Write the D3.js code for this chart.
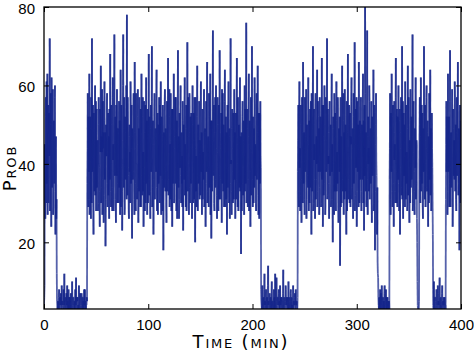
<!DOCTYPE html>
<html>
<head>
<meta charset="utf-8">
<script src="https://cdn.jsdelivr.net/npm/d3@7"></script>
<style>
  body { margin: 0; background: #fff; }
  svg { display: block; }
  .tick text { font-family: "Liberation Sans", Arial, sans-serif; font-size: 15px; fill: #000; }
  .axis-label { font-family: "DejaVu Sans", sans-serif; font-variant: small-caps; fill: #000; }
</style>
</head>
<body>
<div id="chart"></div>
<script>
// sampling step (min); each segment holds two sample streams, the second one offset by dt/2
const dt = 0.5;

// start time (min) of each segment
const segStart = [0, 13, 41.5, 208.5, 243.5, 320.5, 331.5, 358.5, 360, 373.5, 385.5];

// probe values, segment by segment
const burstA = [4, 9, 38, 52, 30, 61, 44, 27, 55, 36, 48, 72, 33, 58, 24, 46, 40, 59, 29, 51, 35, 60, 22, 47, 31, 5];
const burstA2 = [6, 45, 26, 57, 41, 35, 63, 47, 30, 53, 42, 28, 50, 38, 62, 34, 55, 27, 48, 39, 57, 33, 44, 26, 12, 4];

const quietB = [3, 5, 4, 8, 3, 6, 4, 3, 9, 5, 4, 3, 6, 12, 4, 5, 3, 7, 4, 3, 5, 8, 3, 4, 6, 3, 5, 4, 10, 3,
  6, 4, 3, 5, 8, 4, 3, 6, 5, 3, 4, 9, 3, 5, 4, 3, 7, 4, 6, 3, 5, 8, 4, 3, 5, 4, 6];
const quietB2 = [4, 3, 6, 3, 5, 4, 7, 3, 4, 5, 3, 8, 4, 3, 5, 6, 3, 4, 9, 5, 3, 4, 6, 3, 4, 7, 3, 5, 4, 3,
  6, 4, 5, 3, 4, 11, 3, 5, 6, 4, 3, 5, 4, 7, 3, 4, 5, 3, 6, 4, 3, 4, 8, 5, 3, 4, 5];

const burstC = [
  35, 58, 29, 47, 63, 31, 52, 26, 44, 72, 38, 55, 22, 49, 33, 60, 41, 28, 54, 37,
  46, 30, 57, 39, 24, 51, 65, 34, 43, 27, 56, 48, 32, 61, 36, 19, 50, 42, 58, 29,
  53, 38, 26, 47, 68, 33, 55, 40, 28, 62, 45, 31, 73, 37, 52, 25, 44, 59, 35, 49,
  30, 56, 42, 27, 64, 39, 51, 23, 46, 73, 34, 57, 29, 48, 41, 60, 78, 32, 53, 37,
  26, 50, 43, 61, 35, 55, 21, 47, 38, 58, 31, 66, 44, 28, 53, 40, 34, 59, 25, 49,
  57, 36, 45, 29, 63, 41, 52, 33, 24, 56, 39, 48, 30, 62, 43, 27, 54, 37, 68, 32,
  47, 26, 55, 40, 70, 34, 51, 22, 45, 58, 31, 49, 38, 64, 28, 53, 42, 35, 57, 30,
  44, 61, 27, 50, 36, 55, 18, 48, 39, 59, 33, 46, 25, 56, 41, 67, 32, 52, 29, 45,
  58, 37, 49, 24, 54, 40, 63, 31, 47, 35, 57, 28, 51, 43, 69, 34, 26, 53, 39, 60,
  30, 48, 42, 56, 23, 50, 36, 62, 45, 29, 55, 38, 71, 33, 47, 27, 58, 41, 52, 35,
  44, 26, 60, 39, 53, 31, 48, 20, 57, 42, 35, 65, 28, 50, 37, 55, 46, 32, 61, 40,
  27, 54, 43, 36, 59, 30, 49, 24, 56, 38, 66, 33, 47, 29, 52, 41, 63, 35, 21, 51,
  45, 74, 37, 55, 28, 48, 34, 60, 42, 26, 57, 39, 50, 31, 69, 44, 36, 53, 25, 47,
  58, 33, 46, 40, 64, 29, 52, 37, 22, 55, 43, 61, 30, 49, 35, 72, 41, 27, 54, 38,
  47, 31, 59, 44, 26, 53, 36, 67, 40, 57, 28, 50, 34, 62, 45, 17, 48, 39, 56, 32,
  51, 27, 60, 42, 35, 76, 38, 54, 29, 47, 63, 33, 45, 24, 57, 41, 70, 36, 52, 30,
  49, 62, 37, 44, 28, 58, 40, 65, 32, 53, 26, 47, 56, 39];
const burstC2 = [
  44, 31, 52, 38, 27, 49, 36, 57, 30, 46, 41, 29, 53, 37, 45, 32, 56, 48, 34, 42,
  28, 50, 40, 33, 54, 43, 30, 47, 59, 36, 44, 25, 51, 39, 48, 31, 42, 55, 35, 46,
  32, 47, 54, 36, 43, 29, 50, 34, 57, 41, 28, 52, 38, 46, 31, 55, 37, 30, 49, 42,
  45, 34, 51, 38, 29, 55, 43, 33, 60, 40, 49, 27, 52, 36, 46, 31, 44, 57, 39, 28,
  47, 38, 30, 53, 44, 29, 49, 36, 55, 42, 27, 48, 35, 58, 40, 31, 52, 45, 37, 33,
  41, 29, 54, 37, 46, 32, 57, 43, 39, 48, 28, 55, 44, 35, 51, 40, 30, 47, 36, 52,
  33, 49, 38, 56, 29, 45, 42, 36, 53, 31, 47, 40, 58, 34, 46, 27, 50, 39, 44, 55,
  37, 30, 52, 43, 28, 47, 41, 34, 56, 38, 49, 29, 45, 33, 53, 42, 36, 59, 40, 31,
  46, 28, 54, 41, 35, 50, 30, 44, 57, 39, 48, 33, 26, 55, 40, 47, 31, 45, 52, 37,
  43, 35, 29, 51, 38, 46, 55, 32, 41, 49, 28, 44, 37, 57, 40, 34, 48, 30, 45, 53,
  36, 50, 42, 30, 46, 57, 37, 44, 33, 29, 52, 40, 47, 35, 56, 31, 43, 54, 38, 48,
  45, 31, 38, 53, 29, 48, 42, 35, 47, 56, 30, 43, 39, 58, 34, 46, 27, 51, 40, 33,
  54, 38, 46, 30, 41, 57, 36, 44, 32, 50, 43, 28, 55, 37, 48, 31, 45, 40, 59, 35,
  42, 50, 29, 56, 37, 45, 31, 48, 43, 34, 52, 39, 47, 26, 54, 40, 33, 49, 44, 30,
  53, 39, 36, 48, 42, 31, 57, 45, 29, 50, 38, 44, 55, 33, 47, 40, 28, 52, 35, 46,
  39, 45, 33, 54, 47, 30, 49, 41, 36, 56, 28, 51, 38, 44, 32, 53, 43, 29, 47, 40,
  34, 52, 45, 30, 55, 36, 48, 41, 27, 46, 53, 35, 42, 8];

const quietD = [5, 3, 9, 4, 6, 3, 12, 5, 4, 8, 3, 6, 4, 14, 5, 3, 7, 4, 6, 3,
  10, 5, 4, 3, 8, 6, 3, 5, 4, 11, 3, 6, 4, 7, 3, 5, 9, 4, 3, 6,
  5, 3, 13, 4, 6, 3, 5, 8, 4, 3, 6, 4, 10, 3, 5, 4, 7, 3, 6, 4,
  3, 9, 5, 4, 6, 3, 8, 4, 5, 3];
const quietD2 = [4, 6, 3, 5, 3, 8, 4, 3, 6, 4, 5, 3, 9, 4, 3, 6, 5, 3, 4, 7,
  3, 5, 4, 6, 3, 4, 12, 3, 5, 4, 3, 6, 4, 8, 5, 3, 4, 6, 3, 5,
  4, 7, 3, 4, 5, 3, 9, 4, 6, 3, 5, 3, 4, 6, 3, 4, 8, 5, 3, 4,
  6, 3, 5, 4, 7, 3, 4, 5, 3, 6];

const burstE = [
  38, 55, 29, 61, 44, 32, 50, 25, 57, 41, 66, 35, 48, 27, 53, 40, 59, 31, 46, 37,
  62, 28, 51, 43, 34, 56, 22, 49, 39, 70, 30, 54, 45, 26, 58, 36, 47, 64, 33, 52,
  41, 27, 57, 38, 49, 30, 67, 44, 24, 55, 35, 60, 46, 29, 53, 39, 72, 32, 48, 42,
  26, 56, 37, 50, 31, 63, 45, 20, 52, 40, 58, 33, 47, 28, 61, 43, 35, 54, 25, 49,
  38, 14, 57, 44, 30, 65, 36, 51, 27, 48, 59, 33, 46, 22, 55, 41, 68, 31, 50, 37,
  53, 29, 45, 62, 34, 49, 26, 58, 40, 71, 32, 54, 43, 24, 56, 38, 47, 66, 30, 51,
  42, 57, 28, 50, 36, 63, 45, 23, 55, 80, 33, 48, 39, 74, 27, 52, 44, 60, 31, 46,
  35, 56, 25, 49, 41, 64, 30, 53, 18, 45, 58, 37, 22, 15];
const burstE2 = [
  46, 33, 52, 39, 28, 55, 42, 36, 48, 30, 53, 44, 31, 57, 38, 47, 26, 50, 41, 34,
  45, 37, 30, 54, 47, 39, 58, 33, 44, 28, 50, 41, 36, 53, 31, 46, 40, 29, 56, 38,
  49, 34, 45, 52, 29, 41, 36, 55, 47, 32, 43, 50, 27, 57, 38, 46, 31, 54, 40, 35,
  48, 37, 44, 29, 55, 38, 31, 49, 42, 27, 46, 53, 36, 51, 33, 40, 57, 30, 45, 39,
  52, 35, 29, 47, 54, 40, 33, 58, 42, 31, 45, 50, 37, 56, 28, 48, 36, 43, 55, 30,
  40, 47, 56, 31, 44, 38, 52, 35, 49, 28, 45, 39, 57, 33, 42, 50, 29, 54, 41, 36,
  48, 33, 45, 39, 55, 30, 51, 42, 37, 58, 44, 29, 53, 36, 47, 40, 33, 56, 38, 49,
  43, 30, 52, 37, 47, 28, 55, 39, 33, 50, 41, 29, 34, 12];

const quietF = [11, 4, 6, 3, 8, 5, 3, 9, 4, 6, 3, 5, 7, 3, 4, 8, 5, 3, 6, 4, 3, 5];
const quietF2 = [6, 3, 5, 4, 3, 7, 4, 5, 3, 6, 4, 3, 9, 4, 5, 3, 6, 4, 3, 5, 4, 3];

const burstG = [36, 58, 27, 49, 63, 33, 52, 41, 24, 56, 45, 30, 67, 38, 54, 29, 47, 60, 35, 51,
  22, 44, 57, 32, 70, 40, 26, 53, 37, 48, 61, 31, 55, 43, 28, 65, 39, 50, 25, 46,
  59, 34, 52, 42, 73, 30, 56, 38, 27, 49, 62, 35, 45, 20];
const burstG2 = [44, 31, 53, 38, 46, 29, 55, 35, 48, 41, 33, 57, 40, 30, 47, 52, 36, 43, 28, 54,
  39, 48, 34, 45, 31, 56, 42, 37, 50, 29, 46, 53, 35, 41, 49, 32, 57, 38, 44, 30,
  51, 40, 36, 47, 28, 55, 43, 33, 49, 39, 31, 46, 26, 10];

const quietH = [4, 3, 3];
const quietH2 = [3, 3, 5];

const burstI = [41, 57, 30, 62, 46, 35, 53, 26, 49, 70, 38, 55, 29, 44, 60, 33, 51, 24, 47, 58,
  36, 64, 42, 28, 53, 39, 22];
const burstI2 = [50, 36, 47, 33, 55, 42, 29, 45, 38, 52, 31, 46, 40, 57, 34, 48, 37, 43, 30, 54,
  45, 32, 49, 36, 44, 30, 8];

const quietJ = [4, 10, 3, 6, 5, 3, 8, 4, 3, 7, 5, 3, 11, 4, 6, 3, 5, 9, 3, 4, 6, 3, 5, 4];
const quietJ2 = [3, 5, 4, 6, 3, 4, 5, 3, 9, 4, 3, 6, 4, 3, 5, 4, 7, 3, 5, 4, 3, 6, 4, 3];

const burstK = [31, 56, 44, 27, 63, 38, 52, 35, 69, 29, 48, 41, 59, 24, 54, 37, 46, 61, 33, 50,
  28, 57, 40, 66, 32, 49, 18, 55, 43, 36];
const burstK2 = [45, 38, 52, 33, 47, 41, 29, 56, 39, 46, 34, 53, 42, 30, 49, 44, 36, 57, 40, 31,
  48, 37, 54, 43, 35, 46, 39, 30, 51, 42];

const segValues = [burstA, quietB, burstC, quietD, burstE, quietF, burstG, quietH, burstI, quietJ, burstK];
const segValues2 = [burstA2, quietB2, burstC2, quietD2, burstE2, quietF2, burstG2, quietH2, burstI2, quietJ2, burstK2];

const xTicks = [0, 100, 200, 300, 400];
const yTicks = [20, 40, 60, 80];

// build the series, interleaving the two streams
const series = [];
segValues.forEach((vals, s) => {
  vals.forEach((v, i) => {
    series.push({t: segStart[s] + i * dt, v: v});
    if (segValues2[s][i] !== undefined) {
      series.push({t: segStart[s] + i * dt + dt / 2, v: segValues2[s][i]});
    }
  });
});

const margin = {top: 7, right: 13, bottom: 43, left: 44};
const width = 474 - margin.left - margin.right;
const height = 352 - margin.top - margin.bottom;

const svgRoot = d3.select("#chart")
  .append("svg")
  .attr("width", 474)
  .attr("height", 352);

const svg = svgRoot.append("g")
  .attr("transform", `translate(${margin.left},${margin.top})`);

const x = d3.scaleLinear().domain([0, 400]).range([0, width]);
const y = d3.scaleLinear().domain([3, 80]).range([height, 0]);

svg.append("clipPath")
  .attr("id", "clip")
  .append("rect")
  .attr("width", width)
  .attr("height", height);

// draw each step as its own segment so overlaps build up a dark core
svg.append("g")
  .attr("clip-path", "url(#clip)")
  .selectAll("line")
  .data(d3.pairs(series))
  .enter()
  .append("line")
  .attr("x1", d => x(d[0].t))
  .attr("y1", d => y(d[0].v))
  .attr("x2", d => x(d[1].t))
  .attr("y2", d => y(d[1].v))
  .attr("stroke", "#15268a")
  .attr("stroke-opacity", 0.72)
  .attr("stroke-width", 1.8);

// axes: ticks inward on all four sides
const tickLen = 5;
svg.append("g")
  .attr("transform", `translate(0,${height})`)
  .call(d3.axisBottom(x).tickValues(xTicks).tickSizeInner(-tickLen).tickSizeOuter(0).tickPadding(tickLen + 5));
svg.append("g")
  .call(d3.axisTop(x).tickValues(xTicks).tickSizeInner(-tickLen).tickSizeOuter(0).tickFormat(""));
const yAxis = svg.append("g")
  .call(d3.axisLeft(y).tickValues(yTicks).tickSizeInner(-tickLen).tickSizeOuter(0).tickPadding(tickLen + 4));
yAxis.selectAll("text").attr("dy", "0.42em");
svg.append("g")
  .attr("transform", `translate(${width},0)`)
  .call(d3.axisRight(y).tickValues(yTicks).tickSizeInner(-tickLen).tickSizeOuter(0).tickFormat(""));

svg.selectAll(".domain").remove();
svg.selectAll(".tick line").attr("stroke", "#000").attr("stroke-width", 1);

svg.append("rect")
  .attr("width", width)
  .attr("height", height)
  .attr("fill", "none")
  .attr("stroke", "#000")
  .attr("stroke-width", 1.3);

// axis labels
svg.append("text")
  .attr("class", "axis-label")
  .attr("text-anchor", "middle")
  .attr("x", 197)
  .attr("y", height + 39)
  .style("font-size", "18px")
  .style("letter-spacing", "1.8px")
  .text("Time (min)");

svg.append("text")
  .attr("class", "axis-label")
  .attr("text-anchor", "middle")
  .attr("transform", "rotate(-90)")
  .attr("x", -161)
  .attr("y", -28)
  .style("font-size", "18px")
  .style("letter-spacing", "1.8px")
  .text("Prob");
</script>
</body>
</html>
